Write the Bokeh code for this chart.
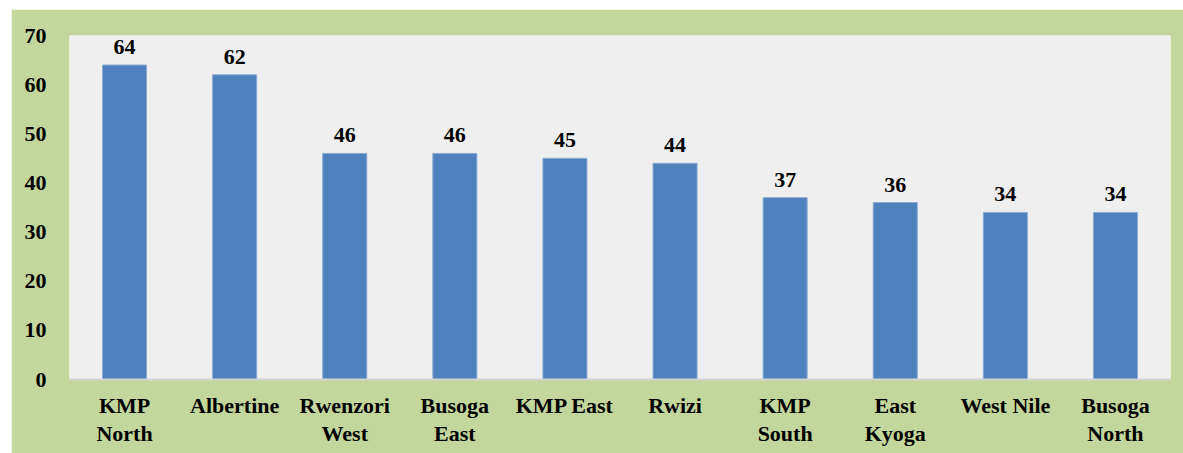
from bokeh.plotting import figure
from bokeh.models import Range1d, FactorRange, LabelSet, ColumnDataSource, SingleIntervalTicker
from bokeh.embed import file_html
from bokeh.resources import INLINE

categories = ["KMP North", "Albertine", "Rwenzori West", "Busoga East", "KMP East",
              "Rwizi", "KMP South", "East Kyoga", "West Nile", "Busoga North"]
values = [64, 62, 46, 46, 45, 44, 37, 36, 34, 34]
tick_labels = ["KMP\nNorth", "Albertine", "Rwenzori\nWest", "Busoga\nEast", "KMP East",
               "Rwizi", "KMP\nSouth", "East\nKyoga", "West Nile", "Busoga\nNorth"]

FONT = "Liberation Serif"
GREEN = "#c3d69b"

src = ColumnDataSource(dict(cat=tick_labels, name=categories, val=values,
                            lab=[str(v) for v in values]))

p = figure(x_range=FactorRange(*tick_labels, range_padding=0), y_range=Range1d(0, 70),
           width=1172, height=444, output_backend="svg", toolbar_location=None,
           margin=(9, 0, 0, 11),
           min_border_left=58, min_border_right=13, min_border_top=26, min_border_bottom=74)
p.background_fill_color = "#efefef"
p.border_fill_color = GREEN
p.outline_line_color = None
p.grid.grid_line_color = None

p.vbar(x="cat", top="val", width=0.4, source=src, fill_color="#4f81bd",
       line_color="#8aaad4", line_width=1)

labels = LabelSet(x="cat", y="val", text="lab", source=src, text_align="center",
                  text_baseline="alphabetic", y_offset=11, text_font=FONT,
                  text_font_style="bold", text_font_size="22px", text_color="black")
p.add_layout(labels)

xa = p.xaxis[0]
xa.axis_line_color = "#d4d4d4"
xa.axis_line_width = 2
xa.major_tick_line_color = None
xa.minor_tick_line_color = None
xa.major_tick_out = 0
xa.major_tick_in = 0
xa.major_label_standoff = 13
xa.major_label_text_font = FONT
xa.major_label_text_font_style = "bold"
xa.major_label_text_font_size = "22px"
xa.major_label_text_color = "black"
xa.major_label_text_line_height = 1.15

ya = p.yaxis[0]
ya.ticker = SingleIntervalTicker(interval=10)
ya.axis_line_color = None
ya.major_tick_line_color = None
ya.minor_tick_line_color = None
ya.major_tick_out = 0
ya.major_tick_in = 0
ya.major_label_standoff = 19
ya.major_label_text_font = FONT
ya.major_label_text_font_style = "bold"
ya.major_label_text_font_size = "22px"
ya.major_label_text_color = "black"

open("out.html", "w").write(file_html(p, INLINE))
